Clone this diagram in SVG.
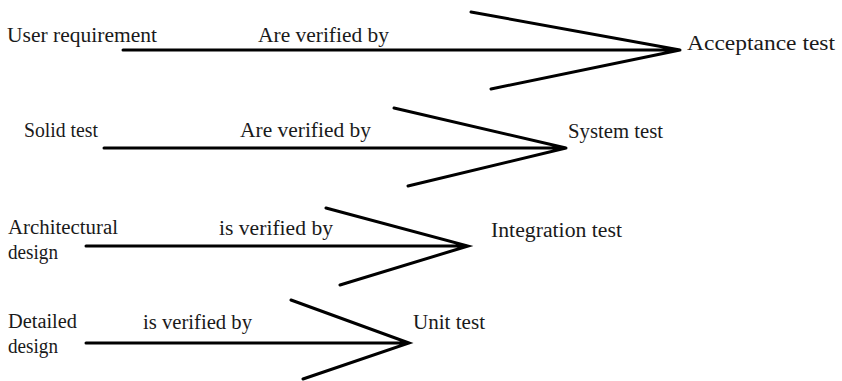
<svg xmlns="http://www.w3.org/2000/svg" width="842" height="381" viewBox="0 0 842 381">
<style>
text{font-family:"Liberation Serif","DejaVu Serif",serif;font-size:20px;fill:#1a1a1a}
.ln{stroke:#000;stroke-width:3;fill:none;stroke-linecap:round;stroke-linejoin:miter}
</style>
<rect width="842" height="381" fill="#fff"/>
<g id="n-user-req"><text x="7" y="42" textLength="150" lengthAdjust="spacingAndGlyphs">User requirement</text></g>
<g id="n-acceptance"><text x="687" y="50" textLength="148" lengthAdjust="spacingAndGlyphs">Acceptance test</text></g>
<g id="n-solid"><text x="24" y="137" textLength="74" lengthAdjust="spacingAndGlyphs">Solid test</text></g>
<g id="n-system"><text x="568" y="138" textLength="95" lengthAdjust="spacingAndGlyphs">System test</text></g>
<g id="n-arch"><text x="8" y="234" textLength="110" lengthAdjust="spacingAndGlyphs">Architectural</text><text x="8" y="259" textLength="50" lengthAdjust="spacingAndGlyphs">design</text></g>
<g id="n-integration"><text x="491" y="237" textLength="131" lengthAdjust="spacingAndGlyphs">Integration test</text></g>
<g id="n-detailed"><text x="8" y="328" textLength="69" lengthAdjust="spacingAndGlyphs">Detailed</text><text x="8" y="353" textLength="50" lengthAdjust="spacingAndGlyphs">design</text></g>
<g id="n-unit"><text x="413" y="329" textLength="72" lengthAdjust="spacingAndGlyphs">Unit test</text></g>
<g id="connectors">
<path class="ln" d="M123 50H680M471 12L680 50L491 89"/>
<text x="258" y="42" textLength="131" lengthAdjust="spacingAndGlyphs">Are verified by</text>
<path class="ln" d="M104 148H566M394 108L566 148L408 186"/>
<text x="240" y="137" textLength="131" lengthAdjust="spacingAndGlyphs">Are verified by</text>
<path class="ln" d="M86 246H468M326 208L468 246L340 285"/>
<text x="219" y="235" textLength="114" lengthAdjust="spacingAndGlyphs">is verified by</text>
<path class="ln" d="M86 343H409M291 300L409 343L303 379"/>
<text x="143" y="329" textLength="109" lengthAdjust="spacingAndGlyphs">is verified by</text>
</g>
</svg>
